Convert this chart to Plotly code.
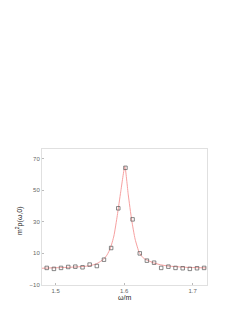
import plotly.graph_objects as go

# data points (open squares)
omega = [1.4869, 1.4974, 1.5078, 1.5183, 1.5287, 1.5392, 1.5496, 1.5601, 1.5705, 1.5810,
         1.5914, 1.6019, 1.6123, 1.6228, 1.6332, 1.6437, 1.6541, 1.6646, 1.6750, 1.6855,
         1.6959, 1.7064, 1.7168]
rho = [0.8, 0.2, 0.8, 1.4, 1.6, 1.2, 2.9, 2.0, 6.0, 13.4,
       38.5, 64.1, 31.5, 10.0, 5.4, 4.1, 0.8, 1.6, 0.8, 0.6,
       0.2, 0.6, 0.8]

# fit curve
fit_x = [1.48, 1.50, 1.52, 1.54, 1.55, 1.56, 1.57, 1.575, 1.58, 1.585, 1.59, 1.595,
         1.601, 1.606, 1.611, 1.616, 1.622, 1.627, 1.632, 1.643, 1.653, 1.664, 1.69, 1.72]
fit_y = [0.6, 0.9, 1.2, 1.7, 2.2, 3.5, 6.3, 9.0, 13.4, 21.0, 34.0, 49.0,
         65.0, 47.0, 31.0, 19.0, 10.5, 7.5, 6.0, 4.0, 2.8, 2.0, 1.2, 0.8]

x_ticks = [1.5, 1.6, 1.7]
y_ticks = [-10, 10, 30, 50, 70]

fig = go.Figure()
fig.add_trace(go.Scatter(x=fit_x, y=fit_y, mode="lines",
                         line=dict(color="#f7a0a0", width=1, shape="spline", smoothing=0.5),
                         showlegend=False, hoverinfo="skip"))
fig.add_trace(go.Scatter(x=omega, y=rho, mode="markers",
                         marker=dict(symbol="square-open", size=3.5, color="#555555",
                                     line=dict(width=0.7, color="#555555")),
                         showlegend=False))

axis_common = dict(showgrid=False, zeroline=False, showline=True, mirror=True,
                   linecolor="#e0e0e0", linewidth=1, ticks="inside", ticklen=2,
                   tickcolor="#bbbbbb", tickfont=dict(size=6, color="#666666",
                                                      family="Liberation Sans"))

fig.update_layout(
    width=241, height=314,
    margin=dict(l=34, r=42, t=141, b=37),
    paper_bgcolor="white", plot_bgcolor="white",
    xaxis=dict(range=[1.48, 1.721], tickvals=x_ticks, ticktext=["1.5", "1.6", "1.7"],
               **axis_common),
    yaxis=dict(range=[-10, 76], tickvals=y_ticks, **axis_common),
    annotations=[
        dict(text="ω/m", xref="paper", yref="paper", x=0.5, y=-0.092,
             xanchor="center", yanchor="middle", showarrow=False,
             font=dict(size=7, color="#222222", family="Liberation Sans")),
        dict(text="m<sup>2</sup>ρ(ω,0)", xref="paper", yref="paper", x=-0.133, y=0.471,
             xanchor="center", yanchor="middle", showarrow=False, textangle=-90,
             font=dict(size=7, color="#222222", family="Liberation Sans")),
    ],
)

fig.write_html("out.html")
